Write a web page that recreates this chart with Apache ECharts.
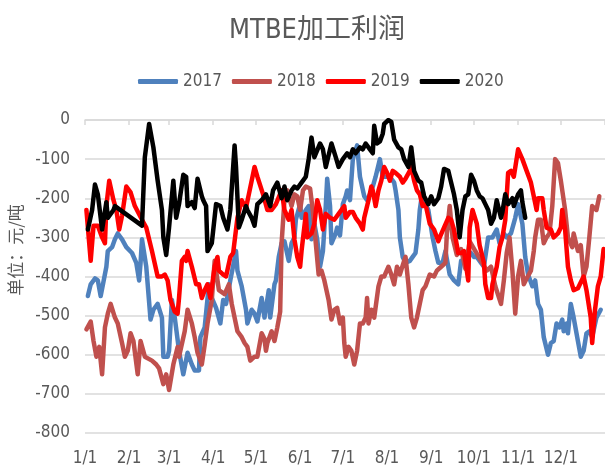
<!DOCTYPE html>
<html>
<head>
<meta charset="utf-8">
<script src="https://cdn.jsdelivr.net/npm/echarts@6/dist/echarts.min.js"></script>
<style>
  html, body { margin: 0; padding: 0; background: #fff; }
  #chart { width: 605px; height: 474px; }
</style>
</head>
<body>
<div id="chart"></div>
<script>
// day of year -> profit (元/吨)
const monthDays = [0, 31, 59, 90, 120, 151, 181, 212, 243, 273, 304, 334];
const monthLabels = ["1/1", "2/1", "3/1", "4/1", "5/1", "6/1", "7/1", "8/1", "9/1", "10/1", "11/1", "12/1"];
const yearNames = ["2017", "2018", "2019", "2020"];
const yearColors = ["#4F81BD", "#C0504D", "#FF0000", "#000000"];

const y2017 = [
  [2,-450],[4,-420],[7,-405],[9,-410],[11,-450],[12,-455],[15,-375],[16,-335],[19,-325],[21,-305],
  [23,-290],[26,-305],[29,-325],[33,-340],[36,-365],[38,-410],[39,-365],[40,-305],[43,-375],[46,-510],
  [48,-485],[51,-470],[54,-505],[55,-605],[58,-605],[59,-590],[61,-460],[63,-505],[66,-590],[69,-650],
  [72,-595],[75,-625],[77,-640],[80,-640],[81,-555],[84,-530],[87,-420],[89,-455],[92,-480],[95,-520],
  [97,-460],[99,-470],[102,-410],[106,-335],[107,-385],[110,-425],[113,-485],[114,-520],[117,-485],[119,-495],
  [121,-515],[124,-455],[126,-505],[129,-435],[130,-505],[133,-420],[134,-410],[136,-350],[138,-315],[140,-310],
  [143,-360],[145,-315],[147,-300],[148,-255],[151,-215],[152,-250],[155,-230],[157,-220],[159,-305],[161,-265],
  [163,-305],[165,-375],[167,-335],[169,-220],[170,-150],[172,-220],[173,-315],[176,-290],[177,-275],[179,-295],
  [181,-215],[183,-195],[184,-180],[186,-205],[188,-100],[191,-65],[193,-145],[196,-195],[198,-205],[200,-190],
  [202,-170],[204,-145],[207,-100],[209,-145],[211,-145],[214,-145],[217,-160],[218,-180],[220,-230],[221,-300],
  [223,-350],[225,-365],[228,-360],[230,-350],[232,-340],[234,-280],[235,-230],[237,-180],[239,-215],[241,-230],
  [244,-300],[246,-335],[248,-365],[251,-365],[253,-335],[256,-395],[259,-410],[262,-420],[264,-360],[266,-365],
  [269,-335],[271,-340],[273,-350],[275,-350],[278,-365],[280,-375],[283,-300],[286,-300],[289,-280],[291,-315],
  [294,-290],[296,-300],[299,-290],[302,-250],[304,-215],[307,-265],[309,-350],[311,-395],[314,-425],[316,-410],
  [318,-470],[320,-485],[322,-555],[325,-600],[327,-570],[329,-565],[331,-520],[333,-530],[335,-510],[336,-540],
  [338,-520],[339,-545],[341,-470],[343,-505],[346,-565],[348,-605],[350,-590],[352,-545],[354,-540],[356,-555],
  [359,-505],[362,-485]
];

const y2018 = [
  [1,-535],[4,-515],[6,-565],[8,-605],[10,-580],[12,-650],[14,-530],[16,-495],[18,-470],[21,-505],
  [23,-520],[26,-570],[28,-605],[30,-590],[32,-545],[34,-565],[37,-650],[39,-565],[42,-605],[47,-615],
  [50,-625],[52,-635],[55,-675],[57,-650],[59,-690],[62,-625],[65,-580],[66,-605],[70,-540],[72,-485],
  [75,-520],[77,-555],[79,-595],[82,-625],[84,-575],[86,-520],[89,-460],[91,-360],[94,-435],[98,-445],
  [101,-420],[103,-470],[107,-540],[110,-555],[112,-570],[114,-580],[116,-615],[119,-605],[121,-605],[124,-545],
  [126,-560],[127,-590],[128,-570],[131,-540],[133,-565],[135,-530],[137,-490],[138,-315],[140,-205],[142,-180],
  [145,-220],[147,-190],[149,-195],[151,-230],[153,-180],[155,-170],[158,-175],[160,-235],[162,-315],[164,-395],
  [166,-385],[168,-410],[171,-460],[173,-510],[175,-485],[177,-480],[179,-520],[181,-505],[182,-570],[183,-605],
  [185,-580],[187,-590],[189,-625],[191,-590],[193,-520],[195,-520],[197,-505],[198,-455],[199,-520],[201,-485],
  [203,-505],[206,-425],[208,-400],[210,-400],[213,-375],[215,-395],[217,-420],[219,-375],[221,-395],[224,-360],
  [225,-350],[227,-420],[229,-505],[231,-530],[233,-505],[235,-470],[237,-435],[239,-425],[242,-395],[245,-400],
  [247,-385],[250,-375],[253,-365],[254,-290],[256,-220],[258,-300],[261,-345],[264,-330],[267,-380],[270,-310],
  [274,-335],[278,-360],[282,-385],[285,-375],[288,-425],[292,-470],[294,-410],[296,-340],[298,-300],[300,-385],
  [302,-495],[304,-400],[306,-360],[308,-420],[310,-405],[313,-385],[315,-335],[316,-300],[318,-255],[320,-255],
  [322,-315],[324,-300],[326,-290],[328,-220],[330,-100],[332,-110],[334,-155],[337,-230],[339,-300],[342,-325],
  [343,-290],[346,-335],[348,-320],[350,-400],[352,-375],[354,-300],[356,-220],[359,-230],[361,-195]
];

const y2019 = [
  [1,-230],[4,-360],[6,-270],[9,-270],[12,-300],[14,-315],[15,-220],[17,-155],[20,-205],[22,-230],
  [24,-280],[26,-245],[29,-170],[32,-185],[35,-220],[40,-255],[43,-275],[47,-335],[51,-400],[54,-400],
  [56,-395],[58,-410],[60,-460],[63,-490],[65,-495],[66,-455],[68,-360],[70,-350],[71,-360],[72,-335],
  [75,-375],[78,-420],[80,-420],[82,-455],[84,-435],[86,-420],[88,-455],[91,-375],[93,-350],[94,-385],
  [97,-395],[99,-400],[102,-350],[104,-340],[107,-250],[110,-205],[113,-225],[115,-190],[119,-120],[121,-145],
  [125,-190],[128,-230],[131,-230],[134,-215],[138,-180],[140,-230],[143,-255],[145,-230],[147,-305],[149,-350],
  [151,-375],[152,-335],[155,-240],[156,-300],[159,-290],[161,-265],[163,-205],[165,-230],[167,-280],[169,-240],
  [172,-250],[175,-255],[178,-240],[182,-220],[183,-250],[186,-235],[188,-235],[190,-250],[193,-265],[195,-280],
  [196,-250],[199,-205],[201,-170],[202,-180],[204,-220],[206,-180],[208,-155],[210,-120],[212,-135],[214,-155],
  [216,-130],[218,-135],[221,-145],[223,-160],[225,-150],[228,-130],[229,-120],[231,-155],[233,-180],[235,-190],
  [237,-220],[239,-215],[242,-265],[245,-280],[248,-310],[249,-300],[252,-275],[255,-250],[257,-255],[259,-280],
  [262,-340],[264,-340],[266,-335],[269,-410],[270,-275],[272,-230],[273,-225],[275,-265],[277,-320],[280,-365],
  [281,-420],[283,-455],[285,-455],[286,-420],[289,-375],[291,-325],[293,-300],[295,-255],[297,-135],[299,-130],
  [301,-145],[304,-75],[305,-70],[307,-100],[308,-100],[310,-130],[313,-160],[315,-195],[317,-230],[318,-200],
  [321,-200],[322,-230],[324,-275],[327,-280],[329,-300],[332,-290],[334,-275],[335,-230],[337,-280],[339,-375],
  [341,-410],[343,-435],[346,-430],[350,-400],[352,-435],[355,-505],[356,-570],[358,-485],[360,-425],[362,-400],
  [364,-330]
];

const y2020 = [
  [2,-280],[5,-230],[7,-165],[9,-190],[12,-280],[15,-210],[16,-250],[20,-230],[21,-220],[40,-270],
  [42,-95],[45,-10],[48,-70],[51,-155],[54,-230],[55,-300],[57,-345],[59,-275],[62,-155],[64,-250],
  [66,-215],[69,-140],[71,-145],[72,-220],[75,-210],[77,-225],[79,-150],[82,-195],[83,-205],[85,-220],
  [86,-335],[89,-315],[92,-215],[95,-220],[97,-250],[100,-280],[102,-230],[105,-65],[106,-120],[108,-275],
  [110,-255],[113,-220],[114,-230],[117,-250],[119,-270],[121,-215],[124,-205],[127,-190],[130,-220],[132,-180],
  [135,-160],[138,-200],[140,-170],[142,-205],[145,-180],[147,-170],[149,-175],[152,-160],[155,-145],[157,-100],
  [159,-45],[161,-95],[165,-60],[167,-75],[169,-120],[173,-60],[176,-95],[178,-120],[181,-100],[184,-85],
  [186,-95],[188,-75],[190,-85],[193,-70],[195,-75],[197,-60],[200,-75],[202,-85],[203,-15],[205,-60],
  [207,-55],[209,-35],[210,-10],[213,0],[215,-5],[217,-50],[220,-70],[222,-75],[224,-100],[227,-120],
  [229,-70],[231,-130],[234,-155],[236,-160],[238,-195],[241,-215],[243,-195],[245,-215],[248,-200],[250,-170],
  [252,-125],[255,-130],[256,-145],[259,-190],[261,-230],[263,-300],[265,-230],[267,-195],[269,-190],[271,-140],
  [273,-155],[275,-180],[277,-195],[279,-200],[281,-215],[283,-230],[285,-265],[287,-250],[289,-205],[292,-250],
  [293,-235],[295,-190],[297,-215],[300,-200],[301,-220],[304,-190],[306,-180],[307,-210],[309,-250]
];

const yearData = [y2017, y2018, y2019, y2020];

const narrow = '"Liberation Sans Narrow", "DejaVu Sans Condensed", sans-serif';
const textColor = "#595959";

const chart = echarts.init(document.getElementById("chart"));
chart.setOption({
  animation: false,
  backgroundColor: "#fff",
  title: {
    text: "MTBE加工利润",
    left: 312,
    textAlign: "center",
    top: 12,
    textStyle: {
      color: textColor,
      fontSize: 27,
      fontWeight: "normal",
      fontFamily: '"Liberation Sans Narrow", "DejaVu Sans Condensed", "Noto Sans CJK SC", sans-serif',
    },
  },
  legend: {
    data: yearNames,
    left: 133,
    top: 68,
    icon: "roundRect",
    itemWidth: 40,
    itemHeight: 5,
    itemGap: 10,
    textStyle: { color: textColor, fontSize: 17, fontFamily: narrow },
  },
  grid: { left: 85, right: 0, top: 120, bottom: 41 },
  xAxis: [
    {
      type: "value",
      min: 0,
      max: 365,
      position: "bottom",
      axisLine: { show: false },
      axisTick: { show: false },
      splitLine: { show: false },
      axisLabel: {
        customValues: monthDays,
        formatter: (v) => monthLabels[monthDays.indexOf(v)],
        color: textColor,
        fontSize: 17,
        fontFamily: narrow,
        margin: 17,
      },
    },
    {
      type: "value",
      min: 0,
      max: 365,
      position: "top",
      axisLine: { show: true, onZero: false, lineStyle: { color: "#d9d9d9", width: 1.5 } },
      axisTick: {
        show: true,
        inside: true,
        length: 5,
        customValues: monthDays.concat([365]),
        lineStyle: { color: "#d9d9d9", width: 1.5 },
      },
      axisLabel: { show: false },
      splitLine: { show: false },
    },
  ],
  yAxis: {
    type: "value",
    min: -800,
    max: 0,
    interval: 100,
    axisLine: { show: false },
    axisTick: { show: false },
    splitLine: { lineStyle: { color: "#d9d9d9", width: 1.5 } },
    axisLabel: { color: textColor, fontSize: 17, fontFamily: narrow, margin: 15 },
  },
  graphic: [
    {
      type: "text",
      x: 16,
      y: 250,
      rotation: Math.PI / 2,
      style: {
        text: "单位：元/吨",
        fill: textColor,
        font: '17px "Noto Sans CJK SC"',
        align: "center",
        verticalAlign: "middle",
        textAlign: "center",
        textVerticalAlign: "middle",
      },
    },
  ],
  series: yearNames.map((name, i) => ({
    name: name,
    type: "line",
    xAxisIndex: 0,
    data: yearData[i],
    showSymbol: false,
    symbol: "none",
    color: yearColors[i],
    lineStyle: { width: 4.5, color: yearColors[i], cap: "round", join: "round" },
    z: 2 + i,
  })),
});
</script>
</body>
</html>
